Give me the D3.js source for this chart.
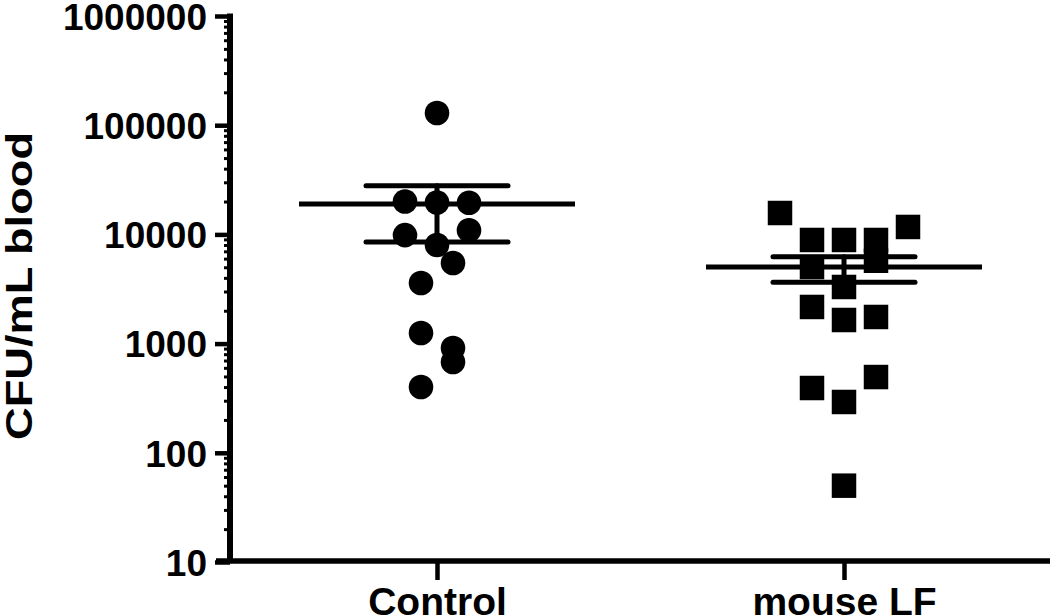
<!DOCTYPE html>
<html>
<head>
<meta charset="utf-8">
<script src="https://cdn.jsdelivr.net/npm/d3@7"></script>
<style>
  html, body { margin: 0; padding: 0; background: #fff; }
  svg { display: block; }
  text { font-family: "Liberation Sans", Arial, sans-serif; font-weight: bold; fill: #000; }
</style>
</head>
<body>
<svg id="chart" width="1050" height="616"></svg>
<script>
// ---- data ----
const categories = ["Control", "mouse LF"];
const yTickValues = [10, 100, 1000, 10000, 100000, 1000000];
const yTickLabels = ["10", "100", "1000", "10000", "100000", "1000000"];
const yTitle = "CFU/mL blood";

// individual animals: value and scatter lane (horizontal jitter slot)
const controlValues = [129500, 20000, 19600, 19500, 9850, 10900, 8000, 5470, 3590, 1250, 912, 679, 401];
const controlLanes  = [0, -2, 0, 2, -2, 2, 0, 1, -1, -1, 1, 1, -1];
const mouseLFValues = [15700, 11700, 8890, 8890, 8890, 5740, 5020, 3300, 2165, 1645, 1753, 494, 392, 292, 50];
const mouseLFLanes  = [-4, 4, -2, 0, 2, 2, -2, 0, -2, 0, 2, 2, -2, 0, 0];

// mean and SEM bounds as drawn
const means    = [18970, 5024];
const semUpper = [27870, 6250];
const semLower = [8510, 3648];

// ---- layout ----
const svg = d3.select("#chart");
const axisX = 230;        // y-axis line position
const xAxisY = 561;       // x-axis line position
const y = d3.scaleLog().domain([10, 1000000]).range([562, 16]);
const x = d3.scalePoint().domain(categories).range([437, 844]);
const laneW = 16;

// ---- y axis ----
const minorVals = [];
for (let d = 10; d < 1000000; d *= 10) for (let k = 2; k <= 9; k++) minorVals.push(d * k);

const gMinor = svg.append("g").attr("transform", `translate(${axisX},0)`)
  .call(d3.axisLeft(y).tickValues(minorVals).tickSize(6).tickFormat(""));
gMinor.select(".domain").remove();
gMinor.selectAll(".tick line").attr("stroke", "#000").attr("stroke-width", 3);

const gY = svg.append("g").attr("transform", `translate(${axisX},0)`)
  .call(d3.axisLeft(y).tickValues(yTickValues).tickSize(15).tickPadding(8)
    .tickFormat((d, i) => yTickLabels[i]));
gY.select(".domain").remove();
gY.selectAll(".tick line").attr("stroke", "#000").attr("stroke-width", 4.5);
gY.selectAll(".tick text").attr("font-size", 37).attr("dy", "0.36em")
  .style("font-family", "'Liberation Sans', Arial, sans-serif").style("font-weight", "bold");

svg.append("line")
  .attr("x1", axisX).attr("x2", axisX)
  .attr("y1", y.range()[1] - 2.5).attr("y2", xAxisY)
  .attr("stroke", "#000").attr("stroke-width", 6);

// ---- x axis ----
const gX = svg.append("g").attr("transform", `translate(0,${xAxisY})`)
  .call(d3.axisBottom(x).tickSize(19).tickPadding(0));
gX.select(".domain").remove();
gX.selectAll(".tick line").attr("stroke", "#000").attr("stroke-width", 4.5);
gX.selectAll(".tick text").attr("font-size", 39).attr("y", 54).attr("dy", 0)
  .style("font-family", "'Liberation Sans', Arial, sans-serif").style("font-weight", "bold");

svg.append("line")
  .attr("x1", axisX - 14).attr("x2", 1050)
  .attr("y1", xAxisY).attr("y2", xAxisY)
  .attr("stroke", "#000").attr("stroke-width", 5.5);

// ---- y title ----
svg.append("text")
  .attr("transform", "translate(32,286) rotate(-90)")
  .attr("text-anchor", "middle")
  .attr("font-size", 37)
  .attr("textLength", 308)
  .attr("lengthAdjust", "spacingAndGlyphs")
  .text(yTitle);

// ---- points ----
const groups = [
  { cat: categories[0], values: controlValues, lanes: controlLanes, sym: d3.symbolCircle, size: Math.PI * 12.3 * 12.3 },
  { cat: categories[1], values: mouseLFValues, lanes: mouseLFLanes, sym: d3.symbolSquare, size: 24.5 * 24.5 }
];
groups.forEach(g => {
  const pts = g.values.map((v, i) => ({ v, lane: g.lanes[i] }));
  svg.append("g").selectAll("path").data(pts).join("path")
    .attr("transform", d => `translate(${x(g.cat) + d.lane * laneW},${y(d.v)})`)
    .attr("d", d3.symbol().type(g.sym).size(g.size))
    .attr("fill", "#000");
});

// ---- mean and SEM ----
const meanHalf = 138, capHalf = 71;
categories.forEach((c, i) => {
  const cx = x(c);
  const g = svg.append("g").attr("stroke", "#000").attr("stroke-linecap", "round");
  g.append("line").attr("x1", cx - meanHalf).attr("x2", cx + meanHalf)
    .attr("y1", y(means[i])).attr("y2", y(means[i])).attr("stroke-width", 5).attr("stroke-linecap", "butt");
  g.append("line").attr("x1", cx).attr("x2", cx)
    .attr("y1", y(semUpper[i])).attr("y2", y(semLower[i])).attr("stroke-width", 5);
  [semUpper[i], semLower[i]].forEach(v => {
    g.append("line").attr("x1", cx - capHalf).attr("x2", cx + capHalf)
      .attr("y1", y(v)).attr("y2", y(v)).attr("stroke-width", 5);
  });
});
</script>
</body>
</html>
